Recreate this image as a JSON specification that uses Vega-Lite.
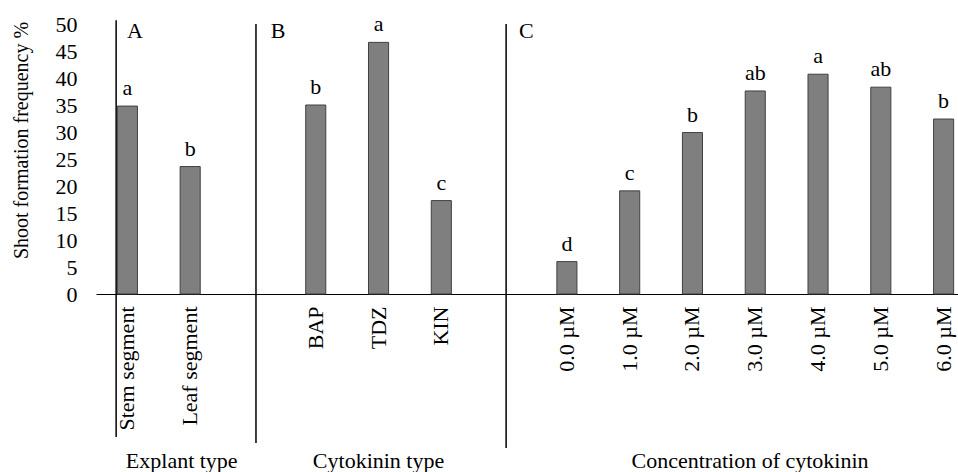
{
  "$schema": "https://vega.github.io/schema/vega-lite/v6.json",
  "width": 862,
  "height": 270,
  "autosize": {"type": "none"},
  "padding": {"left": 96, "top": 24, "right": 0, "bottom": 178},
  "background": "white",
  "config": {
    "font": "Liberation Serif",
    "view": {"stroke": null}
  },
  "datasets": {
    "bars": [
      {"cat": "Stem segment", "value": 34.8, "sig": "a"},
      {"cat": "Leaf segment", "value": 23.6, "sig": "b"},
      {"cat": "BAP", "value": 35.0, "sig": "b"},
      {"cat": "TDZ", "value": 46.6, "sig": "a"},
      {"cat": "KIN", "value": 17.3, "sig": "c"},
      {"cat": "0.0 µM", "value": 6.0, "sig": "d"},
      {"cat": "1.0 µM", "value": 19.1, "sig": "c"},
      {"cat": "2.0 µM", "value": 29.9, "sig": "b"},
      {"cat": "3.0 µM", "value": 37.6, "sig": "ab"},
      {"cat": "4.0 µM", "value": 40.7, "sig": "a"},
      {"cat": "5.0 µM", "value": 38.3, "sig": "ab"},
      {"cat": "6.0 µM", "value": 32.4, "sig": "b"}
    ],
    "panels": [
      {"letter": "A", "title": "Explant type"},
      {"letter": "B", "title": "Cytokinin type"},
      {"letter": "C", "title": "Concentration of cytokinin"}
    ]
  },
  "encoding": {
    "x": {
      "type": "nominal",
      "scale": {
        "domain": ["Stem segment", "Leaf segment", " ", "BAP", "TDZ", "KIN", "  ", "0.0 µM", "1.0 µM", "2.0 µM", "3.0 µM", "4.0 µM", "5.0 µM", "6.0 µM"],
        "range": [0, 879],
        "paddingInner": 0.68,
        "paddingOuter": 0.34
      },
      "axis": {
        "title": null,
        "labelAngle": -90,
        "labelAlign": "right",
        "labelBaseline": "middle",
        "labelFont": "Liberation Serif",
        "labelFontSize": 22,
        "labelPadding": 12,
        "labelColor": "#000",
        "labelLimit": 0,
        "labelOverlap": false,
        "ticks": false,
        "grid": false,
        "domainColor": "#000",
        "domainWidth": 1.2
      }
    },
    "y": {
      "type": "quantitative",
      "scale": {"domain": [0, 50], "nice": false, "zero": true},
      "axis": {
        "title": "Shoot formation frequency %",
        "titleFont": "Liberation Serif",
        "titleFontSize": 20,
        "titleFontWeight": "normal",
        "titleColor": "#000",
        "titleAngle": -90,
        "titleAlign": "center",
        "titleBaseline": "middle",
        "titleX": -75,
        "titleY": 116,
        "values": [0, 5, 10, 15, 20, 25, 30, 35, 40, 45, 50],
        "labelFont": "Liberation Serif",
        "labelFontSize": 22,
        "labelColor": "#000",
        "labelPadding": 19,
        "labelOverlap": false,
        "labelBound": false,
        "ticks": false,
        "domain": false,
        "grid": false
      }
    }
  },
  "layer": [
    {
      "data": {"name": "bars"},
      "mark": {"type": "bar", "fill": "#7f7f7f", "stroke": "#404040", "strokeWidth": 1},
      "encoding": {
        "x": {"field": "cat"},
        "y": {"field": "value"}
      }
    },
    {
      "data": {"name": "bars"},
      "mark": {"type": "text", "baseline": "alphabetic", "dy": -11, "font": "Liberation Serif", "fontSize": 22, "color": "#000"},
      "encoding": {
        "x": {"field": "cat"},
        "y": {"field": "value"},
        "text": {"field": "sig"}
      }
    },
    {
      "data": {"name": "panels"},
      "transform": [{"filter": "datum.letter == 'A'"}],
      "layer": [
        {
          "mark": {"type": "rule", "stroke": "#000", "strokeWidth": 1.5},
          "encoding": {
            "x": {"datum": "Stem segment", "bandPosition": -0.06},
            "y": {"datum": 50.7},
            "y2": {"datum": -26.5}
          }
        },
        {
          "mark": {"type": "text", "align": "left", "baseline": "alphabetic", "font": "Liberation Serif", "fontSize": 22, "color": "#000"},
          "encoding": {
            "x": {"datum": "Stem segment", "bandPosition": 0.48},
            "y": {"datum": 47.4},
            "text": {"field": "letter"}
          }
        },
        {
          "mark": {"type": "text", "align": "center", "baseline": "alphabetic", "font": "Liberation Serif", "fontSize": 22, "color": "#000"},
          "encoding": {
            "x": {"datum": "Leaf segment", "bandPosition": 0.08},
            "y": {"datum": -32.2},
            "text": {"field": "title"}
          }
        }
      ]
    },
    {
      "data": {"name": "panels"},
      "transform": [{"filter": "datum.letter == 'B'"}],
      "layer": [
        {
          "mark": {"type": "rule", "stroke": "#000", "strokeWidth": 1.5},
          "encoding": {
            "x": {"datum": " ", "bandPosition": 0.65},
            "y": {"datum": 50},
            "y2": {"datum": -27.6}
          }
        },
        {
          "mark": {"type": "text", "align": "left", "baseline": "alphabetic", "font": "Liberation Serif", "fontSize": 22, "color": "#000"},
          "encoding": {
            "x": {"datum": " ", "bandPosition": 1.38},
            "y": {"datum": 47.4},
            "text": {"field": "letter"}
          }
        },
        {
          "mark": {"type": "text", "align": "center", "baseline": "alphabetic", "font": "Liberation Serif", "fontSize": 22, "color": "#000"},
          "encoding": {
            "x": {"datum": "TDZ", "bandPosition": 0.5},
            "y": {"datum": -32.2},
            "text": {"field": "title"}
          }
        }
      ]
    },
    {
      "data": {"name": "panels"},
      "transform": [{"filter": "datum.letter == 'C'"}],
      "layer": [
        {
          "mark": {"type": "rule", "stroke": "#000", "strokeWidth": 1.5},
          "encoding": {
            "x": {"datum": "  ", "bandPosition": 0.6},
            "y": {"datum": 50},
            "y2": {"datum": -28.5}
          }
        },
        {
          "mark": {"type": "text", "align": "left", "baseline": "alphabetic", "font": "Liberation Serif", "fontSize": 22, "color": "#000"},
          "encoding": {
            "x": {"datum": "  ", "bandPosition": 1.24},
            "y": {"datum": 47.4},
            "text": {"field": "letter"}
          }
        },
        {
          "mark": {"type": "text", "align": "center", "baseline": "alphabetic", "font": "Liberation Serif", "fontSize": 22, "color": "#000"},
          "encoding": {
            "x": {"datum": "3.0 µM", "bandPosition": 0.24},
            "y": {"datum": -32.2},
            "text": {"field": "title"}
          }
        }
      ]
    }
  ]
}
